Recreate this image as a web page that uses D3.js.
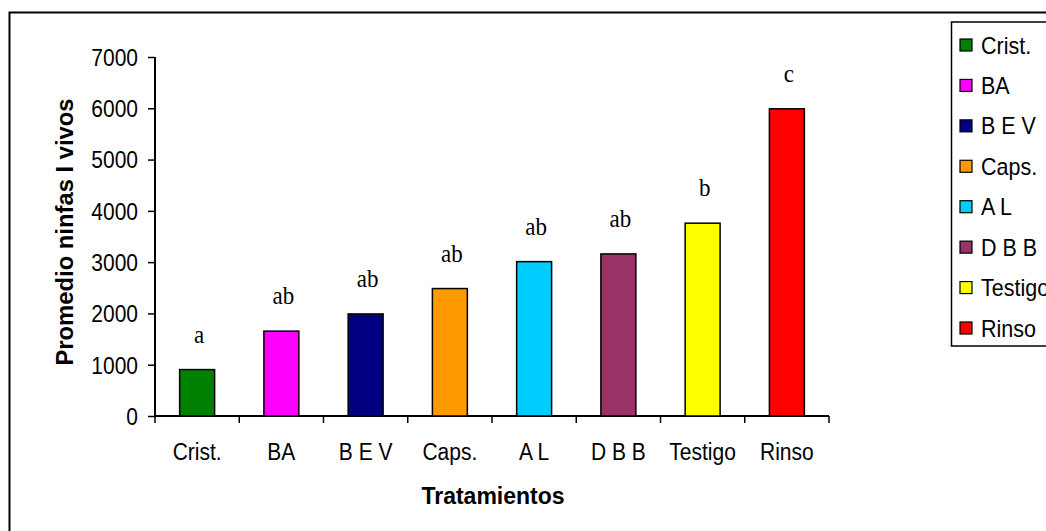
<!DOCTYPE html>
<html>
<head>
<meta charset="utf-8">
<script src="https://cdn.jsdelivr.net/npm/d3@7"></script>
<style>
  html, body { margin: 0; padding: 0; background: #fff; }
  svg { display: block; }
  text { font-family: "Liberation Sans", Arial, sans-serif; fill: #000; }
</style>
</head>
<body>
<svg id="chart" width="1046" height="531"></svg>
<script>
// ---- data ----
const categories = ["Crist.", "BA", "B E V", "Caps.", "A L", "D B B", "Testigo", "Rinso"];
const values = [905, 1655, 1990, 2485, 3010, 3160, 3760, 5990];
const letters = ["a", "ab", "ab", "ab", "ab", "ab", "b", "c"];
const colors = ["#008000", "#FF00FF", "#000080", "#FF9900", "#00CCFF", "#993366", "#FFFF00", "#FF0000"];
const yTicks = [0, 1000, 2000, 3000, 4000, 5000, 6000, 7000];

const svg = d3.select("#chart");
const SY = 1.1; // vertical stretch of the original rendering

// outer frame
svg.append("rect")
  .attr("x", 9.5).attr("y", 12.5)
  .attr("width", 1100).attr("height", 600)
  .attr("fill", "none").attr("stroke", "#000").attr("stroke-width", 2);

const mLeft = 155, mRight = 829, mTop = 57, mBottom = 416;

const x = d3.scaleBand().domain(categories).range([mLeft, mRight]).padding(0);
const y = d3.scaleLinear().domain([0, 7000]).range([mBottom, mTop]);
const barFrac = 0.415;
const barW = x.bandwidth() * barFrac;

// y axis
const yAxis = svg.append("g")
  .attr("transform", `translate(${mLeft},0)`)
  .call(d3.axisLeft(y).tickValues(yTicks).tickSize(7).tickPadding(10).tickFormat(d3.format("d")));
yAxis.select(".domain").attr("d", `M0,${mTop}V${mBottom}`).attr("stroke-width", 2);
yAxis.selectAll(".tick line").attr("stroke-width", 1.5);
yAxis.selectAll("text").style("font-size", "21px").attr("dy", "0.36em")
  .attr("transform", `scale(1,${SY})`);

// x axis
const xAxis = svg.append("g")
  .attr("transform", `translate(0,${mBottom})`)
  .call(d3.axisBottom(x).tickSize(0).tickPadding(25));
xAxis.select(".domain").attr("d", `M${mLeft},0H${mRight}`).attr("stroke-width", 2);
xAxis.selectAll("text").style("font-size", "21px")
  .attr("transform", `scale(1,${SY})`);
// boundary ticks
const bounds = categories.map(c => x(c)).concat([mRight]);
xAxis.selectAll(".bt").data(bounds).join("line")
  .attr("class", "bt")
  .attr("x1", d => d).attr("x2", d => d)
  .attr("y1", 0).attr("y2", 7)
  .attr("stroke", "#000").attr("stroke-width", 1.5);

// bars
svg.append("g").selectAll("rect").data(categories).join("rect")
  .attr("x", c => x(c) + (x.bandwidth() - barW) / 2)
  .attr("y", (c, i) => y(values[i]))
  .attr("width", barW)
  .attr("height", (c, i) => y(0) - y(values[i]))
  .attr("fill", (c, i) => colors[i])
  .attr("stroke", "#000").attr("stroke-width", 1.5);

// significance letters
svg.append("g").selectAll("text").data(categories).join("text")
  .attr("transform", (c, i) => `translate(${x(c) + x.bandwidth() / 2 + 2},${y(values[i]) - 27}) scale(1,${SY})`)
  .attr("text-anchor", "middle")
  .style("font-family", "'Liberation Serif', 'Times New Roman', serif")
  .style("font-size", "23px")
  .text((c, i) => letters[i]);

// axis titles
svg.append("text")
  .attr("transform", `translate(493,504) scale(1,1.05)`)
  .attr("text-anchor", "middle")
  .style("font-size", "23px").style("font-weight", "bold")
  .text("Tratamientos");

svg.append("text")
  .attr("transform", `translate(73,232) rotate(-90)`)
  .attr("text-anchor", "middle")
  .style("font-size", "23.8px").style("font-weight", "bold")
  .text("Promedio ninfas I vivos");

// legend
const lg = svg.append("g");
lg.append("rect")
  .attr("x", 951.5).attr("y", 22)
  .attr("width", 200).attr("height", 324)
  .attr("fill", "#fff").attr("stroke", "#000").attr("stroke-width", 1.5);
const ly = d3.scalePoint().domain(categories).range([45, 328]);
const items = lg.selectAll("g.item").data(categories).join("g")
  .attr("class", "item")
  .attr("transform", c => `translate(0,${ly(c)})`);
items.append("rect")
  .attr("x", 960).attr("y", -6).attr("width", 12).attr("height", 12)
  .attr("fill", (c, i) => colors[i]).attr("stroke", "#000").attr("stroke-width", 1.2);
items.append("text")
  .attr("transform", `translate(981,0) scale(1,${SY})`)
  .attr("dy", "0.36em")
  .style("font-size", "21.5px")
  .text(c => c);
</script>
</body>
</html>
